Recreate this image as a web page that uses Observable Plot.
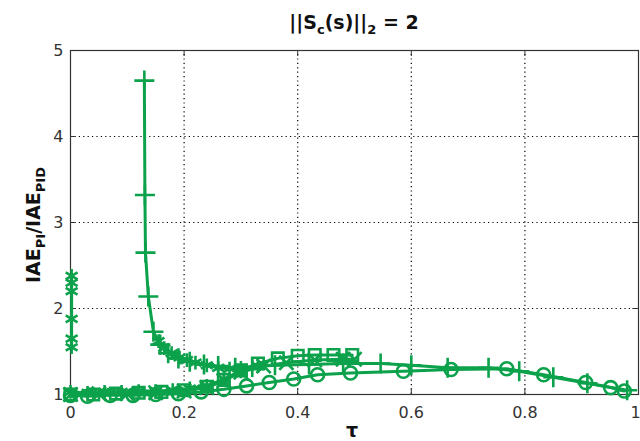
<!DOCTYPE html>
<html><head><meta charset="utf-8">
<script src="https://cdn.jsdelivr.net/npm/d3@7"></script>
<script src="https://cdn.jsdelivr.net/npm/@observablehq/plot@0.6"></script>
<style>body{margin:0;background:#fff}</style>
</head><body><div id="chart"></div>
<script>
const xTicks = [0, 0.2, 0.4, 0.6, 0.8, 1];
const yTicks = [1, 2, 3, 4, 5];

const plusTau = [0.130,0.131,0.132,0.137,0.146,0.158,0.172,0.19,0.21,0.235,0.26,0.29,0.32,0.36,0.42,0.48,0.546,0.60,0.664,0.736,0.79,0.85,0.91,0.98];
const plusVal = [4.65,3.32,2.65,2.14,1.73,1.58,1.48,1.42,1.38,1.35,1.33,1.31,1.32,1.34,1.35,1.36,1.36,1.34,1.31,1.31,1.27,1.20,1.13,1.05];

const starZeroTau = [0.002,0.002,0.002,0.002,0.002,0.002];
const starZeroVal = [2.38,2.30,2.20,1.88,1.65,1.55];

const starCurveTau = [0.155,0.165,0.178,0.192,0.205,0.22,0.24,0.26,0.28,0.30];
const starCurveVal = [1.62,1.54,1.48,1.43,1.40,1.37,1.34,1.31,1.30,1.31];

const starLowTau = [0.0,0.03,0.06,0.09,0.12,0.15,0.18,0.21,0.24,0.27,0.30,0.33];
const starLowVal = [1.03,1.02,1.03,1.03,1.04,1.04,1.05,1.07,1.10,1.18,1.27,1.33];

const circleTau = [0.0,0.03,0.07,0.11,0.15,0.19,0.23,0.27,0.31,0.35,0.393,0.435,0.493,0.586,0.67,0.768,0.833,0.907,0.951,0.975];
const circleVal = [0.99,0.98,0.99,0.99,1.0,1.01,1.03,1.06,1.10,1.14,1.18,1.23,1.25,1.27,1.29,1.30,1.23,1.14,1.08,1.04];

const squareTau = [0.0,0.04,0.08,0.12,0.16,0.2,0.24,0.27,0.30,0.33,0.365,0.40,0.43,0.463,0.496];
const squareVal = [1.0,1.0,1.01,1.02,1.03,1.05,1.09,1.17,1.28,1.36,1.42,1.45,1.46,1.46,1.46];

const timesTau = [0.0,0.05,0.1,0.15,0.2,0.24,0.27,0.30,0.34,0.38,0.43,0.48,0.5];
const timesVal = [1.0,1.01,1.01,1.02,1.04,1.08,1.16,1.26,1.33,1.37,1.40,1.41,1.41];

const seriesList = [
  {name: "plus", symbol: "plus", tau: plusTau, val: plusVal},
  {name: "starZero", symbol: "asterisk", tau: starZeroTau, val: starZeroVal},
  {name: "starCurve", symbol: "asterisk", tau: starCurveTau, val: starCurveVal},
  {name: "starLow", symbol: "asterisk", tau: starLowTau, val: starLowVal},
  {name: "circle", symbol: "circle", tau: circleTau, val: circleVal},
  {name: "square", symbol: "square", tau: squareTau, val: squareVal},
  {name: "times", symbol: "times", tau: timesTau, val: timesVal}
];
const rows = seriesList.flatMap(s => s.tau.map((t, i) => ({series: s.name, symbol: s.symbol, tau: t, val: s.val[i]})));

const green = "#0ca14b";

const chart = Plot.plot({
  width: 640,
  height: 441,
  marginLeft: 70,
  marginRight: 2,
  marginTop: 50,
  marginBottom: 47,
  style: {fontFamily: "DejaVu Sans", fontSize: "16px", color: "#333", background: "#fff"},
  x: {domain: [0, 1]},
  y: {domain: [1, 5]},
  symbol: {type: "identity"},
  marks: [
    Plot.ruleX(xTicks.slice(1, -1), {y1: 1, y2: 5, stroke: "#000", strokeWidth: 1.2, strokeDasharray: "1.2,3.2"}),
    Plot.ruleY(yTicks.slice(1, -1), {x1: 0, x2: 1, stroke: "#000", strokeWidth: 1.2, strokeDasharray: "1.2,3.2"}),
    Plot.ruleX(xTicks, {y1: 1, y2: 1.07, stroke: "#333"}),
    Plot.ruleX(xTicks, {y1: 5, y2: 4.93, stroke: "#333"}),
    Plot.ruleY(yTicks, {x1: 0, x2: 0.01, stroke: "#333"}),
    Plot.ruleY(yTicks, {x1: 1, x2: 0.99, stroke: "#333"}),
    Plot.frame({stroke: "#333", strokeWidth: 1.2}),
    Plot.line(rows, {x: "tau", y: "val", z: "series", stroke: green, strokeWidth: 3}),
    Plot.dot(rows, {x: "tau", y: "val", symbol: "symbol", stroke: green, r: 6.5, strokeWidth: 2.6}),
    Plot.axisX({ticks: xTicks.slice(0, -1), tickSize: 0, tickPadding: 12, label: null, tickFormat: d => String(d)}),
    Plot.axisX({ticks: xTicks.slice(-1), tickSize: 0, tickPadding: 12, label: null, dx: -3, tickFormat: d => String(d)}),
    Plot.axisY({ticks: yTicks, tickSize: 0, tickPadding: 7, label: null, tickFormat: d => String(d)})
  ]
});
document.getElementById("chart").appendChild(chart);

const svg = d3.select(chart);
// Title
const title = svg.append("text")
  .attr("x", 354).attr("y", 29)
  .attr("text-anchor", "middle")
  .attr("font-family", "DejaVu Sans").attr("font-weight", "bold")
  .attr("font-size", 19).attr("fill", "#111");
title.append("tspan").text("||S");
title.append("tspan").attr("font-size", 13).attr("dy", 5).text("c");
title.append("tspan").attr("dy", -5).text("(s)||");
title.append("tspan").attr("font-size", 13).attr("dy", 5).text("2");
title.append("tspan").attr("dy", -5).text(" = 2");

// Y label
const yl = svg.append("text")
  .attr("transform", "translate(40,225) rotate(-90)")
  .attr("text-anchor", "middle")
  .attr("font-family", "DejaVu Sans").attr("font-weight", "bold")
  .attr("font-size", 19).attr("fill", "#111");
yl.append("tspan").text("IAE");
yl.append("tspan").attr("font-size", 13).attr("dy", 5).text("PI");
yl.append("tspan").attr("dy", -5).text("/IAE");
yl.append("tspan").attr("font-size", 13).attr("dy", 5).text("PID");

// X label
svg.append("text")
  .attr("x", 352).attr("y", 437)
  .attr("text-anchor", "middle")
  .attr("font-family", "DejaVu Sans").attr("font-weight", "bold")
  .attr("font-size", 19).attr("fill", "#111")
  .text("τ");
</script>
</body></html>
